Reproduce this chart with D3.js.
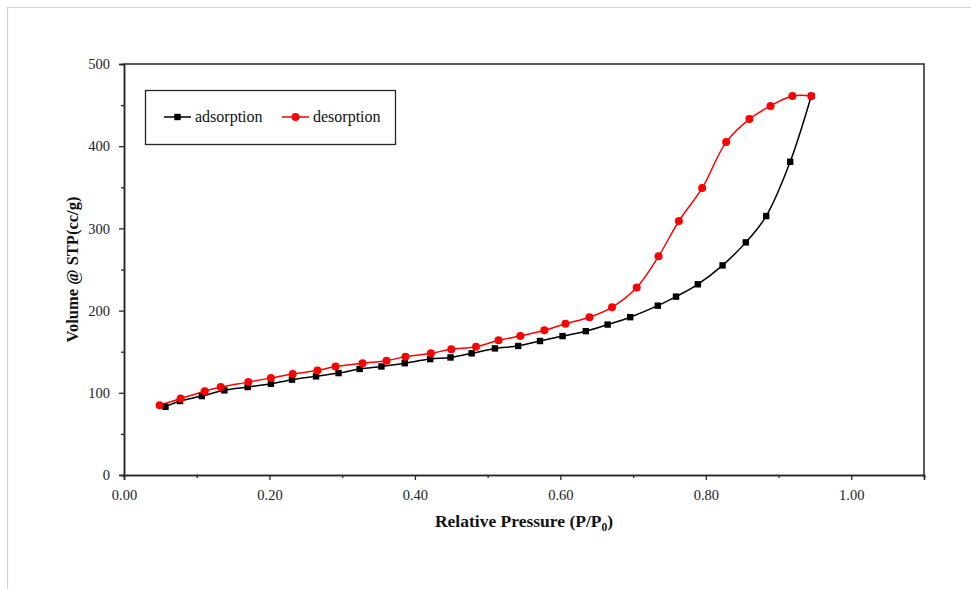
<!DOCTYPE html>
<html>
<head>
<meta charset="utf-8">
<script src="https://cdn.jsdelivr.net/npm/d3@7"></script>
<style>
  html, body { margin: 0; padding: 0; background: #fff; }
  svg { display: block; }
  text { font-family: "Liberation Serif", "DejaVu Serif", serif; }
</style>
</head>
<body>
<svg id="chart" width="971" height="589"></svg>
<script>
// ---- data ----
const adsorptionP = [0.057,0.077,0.107,0.138,0.170,0.202,0.231,0.264,0.295,0.324,0.354,0.386,0.421,0.449,0.478,0.510,0.542,0.572,0.603,0.635,0.665,0.696,0.734,0.759,0.789,0.823,0.855,0.883,0.916,0.945];
const adsorptionV = [83,90,96,103,107,111,116,120,124,129,132,136,141,143,148,154,157,163,169,175,183,192,206,217,232,255,283,315,381,461];
const desorptionP = [0.049,0.078,0.111,0.133,0.171,0.202,0.232,0.266,0.291,0.328,0.361,0.387,0.422,0.450,0.484,0.515,0.545,0.578,0.607,0.640,0.671,0.705,0.735,0.763,0.795,0.828,0.860,0.889,0.919,0.945];
const desorptionV = [85,93,102,107,113,118,123,127,132,136,139,144,148,153,156,164,169,176,184,192,204,228,266,309,349,405,433,449,461,461];
const xMajorTicks = [0, 0.2, 0.4, 0.6, 0.8, 1.0];
const xMinorTicks = [0.1, 0.3, 0.5, 0.7, 0.9, 1.1];
const yMajorTicks = [0, 100, 200, 300, 400, 500];
const yMinorTicks = [50, 150, 250, 350, 450];
const seriesNames = ["adsorption", "desorption"];
const xTitle = "Relative Pressure (P/P";
const yTitle = "Volume @ STP(cc/g)";

// ---- layout ----
const svg = d3.select("#chart");
const L = 124, R = 924, T = 64, B = 475;
const x = d3.scaleLinear().domain([0, 1.1]).range([L, R]);
const y = d3.scaleLinear().domain([0, 500]).range([B, T]);
const axisColor = "#262626";

// outer light frame
svg.append("path").attr("d", "M7.5,589 V7.5 H971")
  .attr("fill", "none").attr("stroke", "#d4d4d4").attr("stroke-width", 1.2);

// plot box (top + right)
svg.append("path").attr("d", `M${L},${T} H${R} V${B}`)
  .attr("fill", "none").attr("stroke", axisColor).attr("stroke-width", 1.5);

// x axis
const gx = svg.append("g").attr("transform", `translate(0,${B})`);
gx.append("g").call(d3.axisBottom(x).tickValues(xMajorTicks).tickSize(5).tickPadding(10).tickFormat(d3.format(".2f")));
gx.append("g").call(d3.axisBottom(x).tickValues(xMinorTicks).tickSize(3).tickFormat(""));
// y axis
const gy = svg.append("g").attr("transform", `translate(${L},0)`);
gy.append("g").call(d3.axisLeft(y).tickValues(yMajorTicks).tickSize(5).tickPadding(9).tickFormat(d3.format("d")));
gy.append("g").call(d3.axisLeft(y).tickValues(yMinorTicks).tickSize(3).tickFormat(""));

svg.selectAll(".domain").attr("stroke", axisColor).attr("stroke-width", 1.5);
svg.selectAll(".tick line").attr("stroke", axisColor).attr("stroke-width", 1.3);
svg.selectAll(".tick text").attr("fill", "#222").style("font-family", '"Liberation Serif", serif').style("font-size", "14.5px");

// axis titles
const xt = svg.append("text").attr("x", (L + R) / 2).attr("y", 527).attr("text-anchor", "middle")
  .style("font-size", "17.5px").style("font-weight", "bold").attr("fill", "#111");
xt.append("tspan").text(xTitle);
xt.append("tspan").attr("dy", 4).style("font-size", "11.5px").text("0");
xt.append("tspan").attr("dy", -4).text(")");

svg.append("text").attr("transform", `translate(78,${(T + B) / 2}) rotate(-90)`)
  .attr("text-anchor", "middle")
  .style("font-size", "16.5px").style("font-weight", "bold").attr("fill", "#111")
  .text(yTitle);

// series
const line = d3.line().x(d => x(d[0])).y(d => y(d[1])).curve(d3.curveCatmullRom.alpha(0.5));
const ads = adsorptionP.map((p, i) => [p, adsorptionV[i]]);
const des = desorptionP.map((p, i) => [p, desorptionV[i]]);

svg.append("path").datum(ads).attr("d", line).attr("fill", "none").attr("stroke", "#000").attr("stroke-width", 1.5);
svg.append("path").datum(des).attr("d", line).attr("fill", "none").attr("stroke", "#ff0000").attr("stroke-width", 1.5);

svg.append("g").selectAll("rect").data(ads).join("rect")
  .attr("x", d => x(d[0]) - 3.2).attr("y", d => y(d[1]) - 3.2)
  .attr("width", 6.4).attr("height", 6.4).attr("fill", "#000");
svg.append("g").selectAll("circle").data(des).join("circle")
  .attr("cx", d => x(d[0])).attr("cy", d => y(d[1])).attr("r", 4).attr("fill", "#ff0000");

// legend
const lg = svg.append("g");
lg.append("rect").attr("x", 145.5).attr("y", 90.5).attr("width", 250).attr("height", 54)
  .attr("fill", "#fff").attr("stroke", axisColor).attr("stroke-width", 1.3);
const items = [
  {name: seriesNames[0], x0: 164, color: "#000", shape: "square"},
  {name: seriesNames[1], x0: 282, color: "#ff0000", shape: "circle"}
];
const ly = 117;
items.forEach(it => {
  lg.append("line").attr("x1", it.x0).attr("x2", it.x0 + 27).attr("y1", ly).attr("y2", ly)
    .attr("stroke", it.color).attr("stroke-width", 1.5);
  if (it.shape === "square") {
    lg.append("rect").attr("x", it.x0 + 13.5 - 3.2).attr("y", ly - 3.2).attr("width", 6.4).attr("height", 6.4).attr("fill", it.color);
  } else {
    lg.append("circle").attr("cx", it.x0 + 13.5).attr("cy", ly).attr("r", 4).attr("fill", it.color);
  }
  lg.append("text").attr("x", it.x0 + 31).attr("y", ly + 5).style("font-size", "16px").attr("fill", "#111").text(it.name);
});
</script>
</body>
</html>
